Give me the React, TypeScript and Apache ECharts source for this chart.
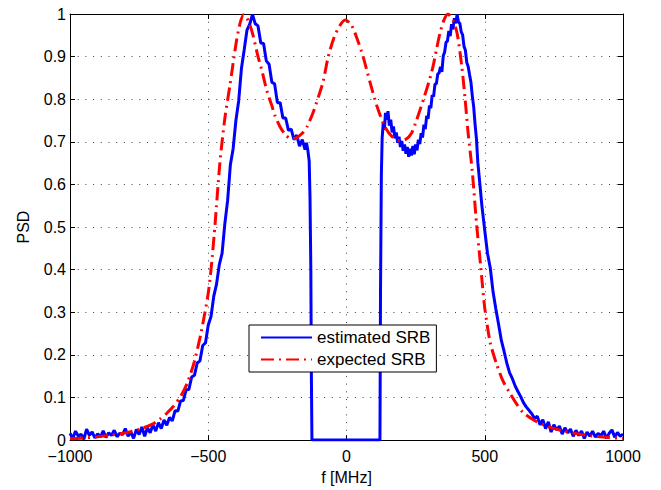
import React, { useEffect, useRef } from "react";
import * as echarts from "echarts";

// x-axis ticks (MHz) and y-axis range
const xTicks = [-1000, -500, 0, 500, 1000];
const yMin = 0;
const yMax = 1;
const yStep = 0.1;

// estimated SRB PSD: [f (MHz), PSD]
const estimatedSRB: [number, number][] = [
  [-1000, 0.016], [-990, 0.004], [-980, 0.021], [-970, 0.009], [-960, 0.014], [-950, 0.002],
  [-940, 0.026], [-930, 0.011], [-920, 0.019], [-910, 0.005], [-900, 0.015], [-890, 0.007],
  [-880, 0.022], [-870, 0.006], [-860, 0.017], [-850, 0.011], [-840, 0.023], [-830, 0.008],
  [-820, 0.016], [-810, 0.013], [-800, 0.027], [-790, 0.009], [-780, 0.019], [-770, 0.004],
  [-760, 0.025], [-750, 0.013], [-740, 0.031], [-730, 0.009], [-720, 0.029], [-710, 0.017],
  [-700, 0.036], [-690, 0.021], [-680, 0.041], [-670, 0.027], [-660, 0.047], [-650, 0.035],
  [-640, 0.053], [-630, 0.045], [-620, 0.069], [-610, 0.068], [-600, 0.092], [-590, 0.093],
  [-580, 0.118], [-570, 0.119], [-560, 0.148], [-550, 0.152], [-540, 0.181], [-530, 0.186],
  [-520, 0.222], [-510, 0.228], [-500, 0.27], [-490, 0.29], [-480, 0.338], [-470, 0.366],
  [-460, 0.412], [-450, 0.438], [-440, 0.508], [-430, 0.562], [-420, 0.646], [-410, 0.684],
  [-400, 0.75], [-390, 0.796], [-380, 0.872], [-370, 0.916], [-360, 0.962], [-350, 0.976],
  [-340, 0.999], [-330, 0.977], [-320, 0.972], [-310, 0.932], [-300, 0.931], [-290, 0.89],
  [-280, 0.882], [-270, 0.84], [-260, 0.836], [-250, 0.792], [-240, 0.792], [-230, 0.756],
  [-220, 0.756], [-210, 0.727], [-200, 0.73], [-190, 0.705], [-180, 0.716], [-170, 0.69],
  [-160, 0.705], [-150, 0.682], [-145, 0.698], [-140, 0.681], [-135, 0.655], [-132, 0.57],
  [-129, 0.4], [-127, 0.15], [-125, 0], [121, 0], [123, 0.35], [126, 0.62], [129, 0.71],
  [133, 0.745], [137, 0.728], [141, 0.768], [145, 0.752], [150, 0.772], [155, 0.738],
  [160, 0.752], [165, 0.722], [170, 0.736], [175, 0.708], [180, 0.722], [185, 0.698],
  [190, 0.712], [195, 0.688], [200, 0.702], [205, 0.679], [210, 0.694], [215, 0.672],
  [220, 0.688], [225, 0.665], [230, 0.684], [235, 0.668], [240, 0.69], [245, 0.671],
  [250, 0.694], [255, 0.68], [260, 0.705], [265, 0.695], [270, 0.72], [275, 0.71],
  [280, 0.74], [285, 0.73], [290, 0.761], [295, 0.754], [300, 0.785], [305, 0.779],
  [310, 0.81], [315, 0.806], [320, 0.836], [325, 0.836], [330, 0.859], [335, 0.862],
  [340, 0.876], [345, 0.864], [350, 0.902], [355, 0.911], [360, 0.934], [365, 0.936],
  [370, 0.96], [375, 0.948], [380, 0.976], [385, 0.964], [390, 0.99], [395, 0.978],
  [400, 0.999], [405, 0.981], [410, 0.978], [415, 0.958], [420, 0.951], [425, 0.924],
  [430, 0.915], [435, 0.886], [440, 0.877], [445, 0.858], [450, 0.84], [455, 0.808],
  [460, 0.782], [465, 0.741], [470, 0.707], [475, 0.651], [480, 0.617], [490, 0.548],
  [500, 0.492], [510, 0.438], [520, 0.404], [530, 0.348], [540, 0.308], [550, 0.272],
  [560, 0.234], [570, 0.208], [580, 0.18], [590, 0.158], [600, 0.144], [610, 0.127],
  [620, 0.114], [630, 0.102], [640, 0.088], [650, 0.078], [660, 0.07], [670, 0.062],
  [680, 0.051], [690, 0.056], [700, 0.036], [710, 0.048], [720, 0.027], [730, 0.043],
  [740, 0.019], [750, 0.036], [760, 0.024], [770, 0.033], [780, 0.014], [790, 0.029],
  [800, 0.017], [810, 0.026], [820, 0.009], [830, 0.023], [840, 0.011], [850, 0.021],
  [860, 0.004], [870, 0.019], [880, 0.009], [890, 0.021], [900, 0.007], [910, 0.016],
  [920, 0.01], [930, 0.021], [940, 0.004], [950, 0.016], [960, 0.024], [970, 0.007],
  [980, 0.018], [990, 0.009], [1000, 0.014],
];

// expected SRB PSD: [f (MHz), PSD]
const expectedSRB: [number, number][] = [
  [-1000, 0.003], [-950, 0.005], [-900, 0.008], [-850, 0.012], [-800, 0.017], [-750, 0.025],
  [-700, 0.038], [-675, 0.049], [-650, 0.063], [-625, 0.08], [-600, 0.102], [-575, 0.135],
  [-550, 0.185], [-525, 0.255], [-500, 0.345], [-487, 0.42], [-475, 0.51], [-458, 0.65],
  [-440, 0.755], [-421, 0.835], [-410, 0.885], [-397, 0.94], [-385, 0.978], [-372, 0.998],
  [-360, 0.99], [-350, 0.975], [-338, 0.95], [-320, 0.9], [-307, 0.87], [-288, 0.82],
  [-270, 0.785], [-259, 0.762], [-240, 0.735], [-220, 0.716], [-200, 0.707], [-180, 0.71],
  [-160, 0.72], [-143, 0.735], [-120, 0.77], [-102, 0.805], [-85, 0.84], [-66, 0.9],
  [-45, 0.945], [-25, 0.972], [-5, 0.986], [15, 0.977], [35, 0.948], [60, 0.9], [85, 0.84],
  [110, 0.784], [139, 0.735], [165, 0.712], [193, 0.702], [215, 0.706], [235, 0.72],
  [253, 0.75], [282, 0.807], [300, 0.845], [313, 0.877], [325, 0.915], [338, 0.955],
  [352, 0.985], [367, 1.0], [385, 0.985], [400, 0.955], [417, 0.877], [429, 0.8], [440, 0.72],
  [455, 0.63], [470, 0.51], [485, 0.41], [500, 0.31], [520, 0.228], [543, 0.178], [565, 0.14],
  [591, 0.11], [615, 0.085], [638, 0.065], [680, 0.046], [724, 0.033], [780, 0.022],
  [843, 0.014], [900, 0.009], [950, 0.006], [1000, 0.004],
];

const seriesNames = ["estimated SRB", "expected SRB"];

const FONT = "'Liberation Sans', Arial, Helvetica, sans-serif";

export default function App() {
  const ref = useRef<HTMLDivElement>(null);

  useEffect(() => {
    if (!ref.current) return;
    const chart = echarts.init(ref.current, undefined, { renderer: "svg" });
    const xMin = xTicks[0];
    const xMax = xTicks[xTicks.length - 1];
    const xInterval = xTicks[1] - xTicks[0];
    const fmtX = (v: number) => (v < 0 ? "\u2212" + Math.abs(v) : String(v));
    const fmtY = (v: number) => String(Math.round(v * 10) / 10);
    const gridDots = { type: [1, 6.7] as any, color: "#444", width: 1 };
    const axisLine = { show: true, onZero: false, lineStyle: { color: "#000", width: 1 } };
    const tick = { show: true, inside: true, length: 5, lineStyle: { color: "#000" } };

    chart.setOption({
      animation: false,
      backgroundColor: "#fff",
      textStyle: { fontFamily: FONT },
      grid: { left: 70, right: 38, top: 14, bottom: 46, containLabel: false },
      legend: {
        orient: "vertical",
        left: 249,
        top: 325,
        data: seriesNames,
        backgroundColor: "#fff",
        borderColor: "#000",
        borderWidth: 1,
        borderRadius: 0,
        padding: [4, 6, 4, 11],
        itemWidth: 51,
        itemHeight: 14,
        itemGap: 5,
        itemStyle: { opacity: 0 },
        textStyle: { fontSize: 17, color: "#000", fontFamily: FONT },
      },
      xAxis: [
        {
          type: "value",
          position: "bottom",
          min: xMin,
          max: xMax,
          interval: xInterval,
          name: "f [MHz]",
          nameLocation: "middle",
          nameGap: 24,
          nameTextStyle: { fontSize: 16, color: "#000", fontFamily: FONT },
          axisLine,
          axisTick: tick,
          axisLabel: { fontSize: 16, color: "#000", margin: 8, formatter: fmtX, fontFamily: FONT },
          splitLine: { show: true, lineStyle: gridDots },
        },
        {
          type: "value",
          position: "top",
          min: xMin,
          max: xMax,
          interval: xInterval,
          axisLine,
          axisTick: tick,
          axisLabel: { show: false },
          splitLine: { show: false },
        },
      ],
      yAxis: [
        {
          type: "value",
          position: "left",
          min: yMin,
          max: yMax,
          interval: yStep,
          name: "PSD",
          nameLocation: "middle",
          nameGap: 39,
          nameTextStyle: { fontSize: 16, color: "#000", fontFamily: FONT },
          axisLine,
          axisTick: tick,
          axisLabel: { fontSize: 16, color: "#000", margin: 4, formatter: fmtY, fontFamily: FONT },
          splitLine: { show: true, lineStyle: gridDots },
        },
        {
          type: "value",
          position: "right",
          min: yMin,
          max: yMax,
          interval: yStep,
          axisLine,
          axisTick: tick,
          axisLabel: { show: false },
          splitLine: { show: false },
        },
      ],
      series: [
        {
          name: seriesNames[0],
          type: "line",
          xAxisIndex: 0,
          yAxisIndex: 0,
          data: estimatedSRB,
          symbol: "none",
          showSymbol: false,
          clip: true,
          lineStyle: { color: "#0000ff", width: 3 },
          itemStyle: { color: "#0000ff" },
          z: 2,
        },
        {
          name: seriesNames[1],
          type: "line",
          xAxisIndex: 0,
          yAxisIndex: 0,
          data: expectedSRB,
          symbol: "none",
          showSymbol: false,
          smooth: 0.25,
          clip: true,
          lineStyle: { color: "#ff0000", width: 3, type: [13, 5, 2, 5] },
          itemStyle: { color: "#ff0000" },
          z: 3,
        },
      ],
    });
    return () => chart.dispose();
  }, []);

  return <div ref={ref} style={{ width: 661, height: 490, position: "absolute", left: 0, top: 0 }} />;
}
